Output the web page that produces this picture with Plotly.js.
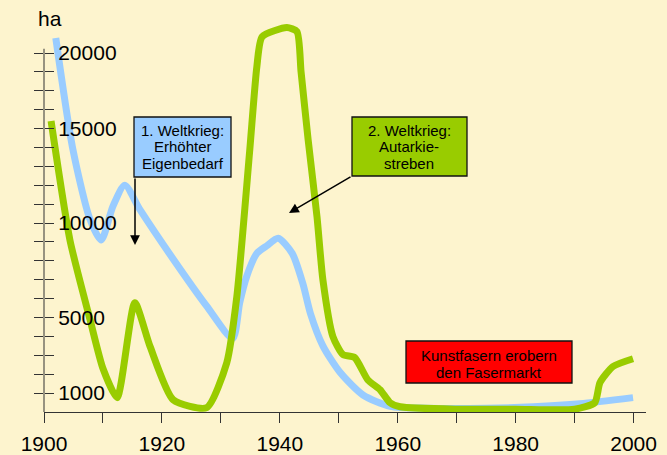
<!DOCTYPE html>
<html>
<head>
<meta charset="utf-8">
<script src="https://cdn.plot.ly/plotly-3.0.1.min.js"></script>
<style>html,body{margin:0;padding:0;background:#FDF4CE;}#chart{width:667px;height:455px;}</style>
</head>
<body>
<div id="chart"></div>
<script>
// Data (hectares)
const blueYears = [1902.0, 1904.9, 1907.8, 1909.7, 1911.7, 1913.7, 1916.3, 1921.9, 1927.6, 1932.0, 1933.2, 1934.4, 1936.1, 1937.8, 1939.7, 1942.1, 1943.9, 1945.2, 1947.3, 1950.2, 1954.1, 1958.7, 1965, 1975, 1983, 1990.9, 1999.9];
const blueHa    = [19800, 13900, 10200, 9100, 10900, 12000, 10700, 8100, 5600, 3900, 5800, 7200, 8400, 8800, 9200, 8400, 6800, 5200, 3500, 2100, 900, 300, 200, 200, 280, 440, 760];

const greenYears = [1901.2, 1904.4, 1907.8, 1910.0, 1912.4, 1915.4, 1918.0, 1921.9, 1927.6, 1931.0, 1932.7, 1934.9, 1936.1, 1937.0, 1941.2, 1942.9, 1943.6, 1944.8, 1946.3, 1947.3, 1949.0, 1950.7, 1952.7, 1954.9, 1957.0, 1958.7, 1960.4, 1970, 1980, 1990, 1993.4, 1994.3, 1996.5, 1999.9];
const greenHa    = [15400, 9100, 4900, 2300, 760, 5790, 3460, 650, 230, 2610, 6100, 13880, 18280, 19870, 20350, 20140, 18000, 14410, 10340, 7000, 3990, 3040, 2880, 1710, 1180, 490, 280, 150, 150, 150, 490, 1560, 2410, 2820];

const xTickVals = [1900, 1910, 1920, 1930, 1940, 1950, 1960, 1970, 1980, 1990, 2000];
const xTickText = ['1900', '', '1920', '', '1940', '', '1960', '', '1980', '', '2000'];
const yTickVals = [1000,2000,3000,4000,5000,6000,7000,8000,9000,10000,11000,12000,13000,14000,15000,16000,17000,18000,19000];
const yTickText = ['1000','','','','5000','','','','','10000','','','','','15000','','','','20000'];

const yAxisTop = 19230;
const unitLabel = 'ha';
const note1 = ['1. Weltkrieg:', 'Erhöhter', 'Eigenbedarf'];
const note2 = ['2. Weltkrieg:', 'Autarkie-', 'streben'];
const note3 = ['Kunstfasern erobern', 'den Fasermarkt'];

const BG = '#FDF4CE';
const FONT = 'Liberation Sans, Arial, sans-serif';
// pixel -> paper helpers (plot area: x 44..646, y 20..412)
const PX = x => (x - 44) / 602;
const PY = y => (412 - y) / 392;

const traces = [
  {x: blueYears, y: blueHa, type: 'scatter', mode: 'lines', yaxis: 'y',
   line: {color: '#99CCFF', width: 7, shape: 'spline', smoothing: 0.7}, hoverinfo: 'skip'},
  {x: greenYears, y: greenHa, type: 'scatter', mode: 'lines', yaxis: 'y2',
   line: {color: '#99CC00', width: 7, shape: 'spline', smoothing: 0.6}, hoverinfo: 'skip'}
];

const shapes = [
  {type: 'line', xref: 'paper', yref: 'y', x0: 0, x1: 0, y0: 0, y1: yAxisTop, line: {color: '#333', width: 1}},
  {type: 'rect', xref: 'paper', yref: 'paper', x0: PX(134), x1: PX(231), y0: PY(177), y1: PY(117),
   fillcolor: '#99CCFF', line: {color: '#111', width: 1.3}},
  {type: 'rect', xref: 'paper', yref: 'paper', x0: PX(352), x1: PX(467), y0: PY(176), y1: PY(117),
   fillcolor: '#99CC00', line: {color: '#111', width: 1.3}},
  {type: 'rect', xref: 'paper', yref: 'paper', x0: PX(406), x1: PX(572), y0: PY(383), y1: PY(341),
   fillcolor: '#FF0000', line: {color: '#111', width: 1.3}}
];

const annotations = [
  {xref: 'paper', yref: 'paper', x: PX(50), y: PY(18), text: unitLabel, showarrow: false,
   font: {family: FONT, size: 21, color: '#000'}, xanchor: 'center', yanchor: 'middle'},
  {xref: 'paper', yref: 'paper', x: PX(135), y: PY(245), ax: 0, ay: -68, text: '', showarrow: true,
   arrowhead: 2, arrowsize: 1.3, arrowwidth: 1.5, arrowcolor: '#000', standoff: 0, startstandoff: 0},
  {xref: 'paper', yref: 'paper', x: PX(289), y: PY(213), ax: 63, ay: -37, text: '', showarrow: true,
   arrowhead: 2, arrowsize: 1.3, arrowwidth: 1.5, arrowcolor: '#000', standoff: 0, startstandoff: 0}
];
function addLines(lines, cx, ys) {
  lines.forEach((t, i) => annotations.push({
    xref: 'paper', yref: 'paper', x: PX(cx), y: PY(ys[i]), text: t, showarrow: false,
    xanchor: 'center', yanchor: 'middle', font: {family: FONT, size: 15, color: '#000'}
  }));
}
addLines(note1, 182.5, [130, 146.7, 163.3]);
addLines(note2, 409.5, [130, 146.7, 163.3]);
addLines(note3, 489, [355, 372.3]);

const layout = {
  width: 667, height: 455,
  margin: {l: 44, r: 21, t: 20, b: 43, pad: 0},
  paper_bgcolor: BG, plot_bgcolor: BG,
  showlegend: false,
  font: {family: FONT, color: '#000'},
  xaxis: {range: [1900, 2002.1], tickmode: 'array', tickvals: xTickVals, ticktext: xTickText,
    ticks: 'outside', ticklen: 10, tickwidth: 1, tickcolor: '#333', ticklabelstandoff: 3,
    showline: true, linecolor: '#333', linewidth: 1, showgrid: false, zeroline: false,
    tickfont: {family: FONT, size: 21, color: '#000'}, fixedrange: true},
  yaxis: {range: [0, 20752], tickmode: 'array', tickvals: yTickVals, showticklabels: false,
    ticks: 'outside', ticklen: 9, tickwidth: 1, tickcolor: '#333',
    showline: false, showgrid: false, zeroline: false, fixedrange: true},
  yaxis2: {range: [0, 20752], overlaying: 'y', side: 'right', anchor: 'free', position: 0,
    tickmode: 'array', tickvals: yTickVals, ticktext: yTickText,
    ticks: 'outside', ticklen: 9, tickwidth: 1, tickcolor: '#333',
    showline: false, showgrid: false, zeroline: false,
    tickfont: {family: FONT, size: 21, color: '#000'}, fixedrange: true},
  shapes: shapes,
  annotations: annotations
};

Plotly.newPlot('chart', traces, layout, {displayModeBar: false, staticPlot: true});
</script>
</body>
</html>
